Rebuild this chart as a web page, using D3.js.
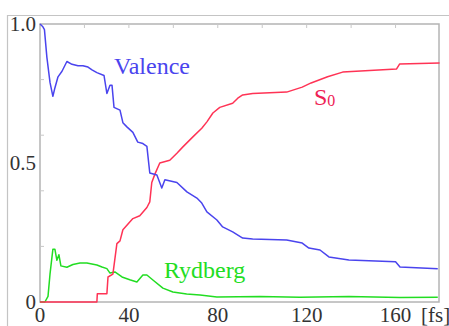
<!DOCTYPE html>
<html>
<head>
<meta charset="utf-8">
<script src="https://cdn.jsdelivr.net/npm/d3@7"></script>
<style>
  body { margin: 0; background: #fff; }
  svg { display: block; }
  text { font-family: "Liberation Serif", "Times New Roman", "DejaVu Serif", serif; }
</style>
</head>
<body>
<div id="chart"></div>
<script>
// populations vs time [fs]
const valence = [
  [0, 1.0], [1.3, 0.99], [2.0, 0.98], [3.1, 0.88], [4.5, 0.79], [5.8, 0.74],
  [6.7, 0.77], [8.1, 0.81], [9.9, 0.83], [12.1, 0.865], [14.4, 0.855],
  [17.1, 0.85], [19.3, 0.85], [21.6, 0.845], [23.4, 0.835], [25.6, 0.825],
  [28.8, 0.815], [30.1, 0.75], [31.5, 0.78], [32.4, 0.78], [33.3, 0.70],
  [36, 0.69], [37.3, 0.645], [39.1, 0.63], [41.8, 0.61], [44, 0.575],
  [46.3, 0.57], [48.1, 0.56], [49.4, 0.464], [52.6, 0.457], [54.8, 0.41],
  [56.2, 0.44], [61.6, 0.43], [66.1, 0.396], [70.6, 0.374], [72.8, 0.356],
  [75.1, 0.324], [79.6, 0.295], [82.2, 0.27], [86.7, 0.252], [91.2, 0.23],
  [95.7, 0.227], [111, 0.223], [118, 0.212], [121, 0.194], [126, 0.187],
  [130, 0.162], [139, 0.151], [160, 0.145], [162, 0.126], [179, 0.12]
];
const s0 = [
  [0, 0], [25.6, 0], [25.8, 0.03], [30.1, 0.03], [30.6, 0.09], [32.8, 0.1],
  [34.6, 0.21], [36, 0.22], [37.3, 0.26], [41.8, 0.30], [44.9, 0.31],
  [48.1, 0.34], [49.4, 0.36], [50.3, 0.43], [51.7, 0.46], [53.9, 0.5],
  [58.4, 0.51], [61.6, 0.535], [64.3, 0.558], [68.8, 0.594], [72.8, 0.625],
  [75.1, 0.648], [77.8, 0.68], [80.9, 0.70], [86.7, 0.715], [89, 0.733],
  [91.2, 0.745], [95.7, 0.75], [111, 0.755], [118, 0.773], [122, 0.788],
  [129.4, 0.81], [136.2, 0.827], [160.4, 0.838], [161.8, 0.856], [179.8, 0.86]
];
const rydberg = [
  [0, 0], [2.2, 0], [3.6, 0.02], [4.5, 0.10], [5.8, 0.19], [6.7, 0.19],
  [7.6, 0.15], [8.5, 0.17], [9.4, 0.13], [12.1, 0.125], [14.8, 0.135],
  [18, 0.14], [21.1, 0.14], [25.6, 0.133], [27.9, 0.126], [30.1, 0.12],
  [31.5, 0.104], [33.7, 0.108], [36.9, 0.09], [40.4, 0.08], [43.6, 0.072],
  [46.3, 0.097], [48.1, 0.097], [50.8, 0.079], [55.3, 0.05], [59.8, 0.036],
  [66, 0.029], [72, 0.025], [79.6, 0.018], [99, 0.02], [117, 0.017],
  [139, 0.02], [162, 0.016], [179, 0.017]
];
const xTicks = [0, 40, 80, 120, 160];
const yTicks = [0, 0.5, 1.0];
const yTickLabels = ['0', '0.5', '1.0'];

const width = 449;
const height = 326;

const x = d3.scaleLinear().domain([0, 180]).range([40, 440]);
const y = d3.scaleLinear().domain([0, 1]).range([302, 24]);

const svg = d3.select('#chart').append('svg')
  .attr('width', width)
  .attr('height', height);

// outer frame
svg.append('path')
  .attr('d', `M7.5,${height} V15.5 H${width}`)
  .attr('fill', 'none')
  .attr('stroke', '#c4c4c4')
  .attr('stroke-width', 1.2);

// plot box
svg.append('rect')
  .attr('x', x(0)).attr('y', y(1))
  .attr('width', x(180) - x(0) - 1).attr('height', y(0) - y(1))
  .attr('fill', 'none')
  .attr('stroke', '#b4b4b4')
  .attr('stroke-width', 1.5);

// minor ticks
svg.selectAll('.ytick').data([0.2, 0.4, 0.6, 0.8])
  .enter().append('line')
  .attr('x1', x(0)).attr('x2', x(0) + 4)
  .attr('y1', d => y(d)).attr('y2', d => y(d))
  .attr('stroke', '#c8c8c8');
svg.selectAll('.xtick').data(d3.range(20, 180, 20))
  .enter().append('line')
  .attr('x1', d => x(d)).attr('x2', d => x(d))
  .attr('y1', y(1)).attr('y2', y(1) + 4)
  .attr('stroke', '#c8c8c8');

// tick labels
svg.selectAll('.ylab').data(yTicks)
  .enter().append('text')
  .attr('x', 36)
  .attr('y', d => y(d))
  .attr('dy', '0.35em')
  .attr('text-anchor', 'end')
  .attr('font-size', 21)
  .attr('fill', '#333')
  .text((d, i) => yTickLabels[i]);

svg.selectAll('.xlab').data(xTicks)
  .enter().append('text')
  .attr('x', d => x(d))
  .attr('y', 322)
  .attr('text-anchor', 'middle')
  .attr('font-size', 21)
  .attr('fill', '#333')
  .text(d => d);

svg.append('text')
  .attr('x', 421).attr('y', 322)
  .attr('font-size', 21)
  .attr('fill', '#333')
  .text('[fs]');

// curves
const line = d3.line().x(d => x(d[0])).y(d => y(d[1]));
const series = [
  {data: rydberg, color: '#22dd22'},
  {data: s0, color: '#ff3355'},
  {data: valence, color: '#4a44ee'}
];
svg.selectAll('.curve').data(series)
  .enter().append('path')
  .attr('d', d => line(d.data))
  .attr('fill', 'none')
  .attr('stroke', d => d.color)
  .attr('stroke-width', 1.5)
  .attr('stroke-linejoin', 'round');

// curve labels
svg.append('text')
  .attr('x', 114).attr('y', 74)
  .attr('font-size', 24)
  .attr('fill', '#4a44ee')
  .text('Valence');

const s0Label = svg.append('text')
  .attr('x', 314).attr('y', 105)
  .attr('font-size', 24)
  .attr('fill', '#ee2255');
s0Label.append('tspan').text('S');
s0Label.append('tspan').attr('font-size', 16).attr('dy', 1).text('0');

svg.append('text')
  .attr('x', 164).attr('y', 278)
  .attr('font-size', 24)
  .attr('fill', '#22dd22')
  .text('Rydberg');
</script>
</body>
</html>
